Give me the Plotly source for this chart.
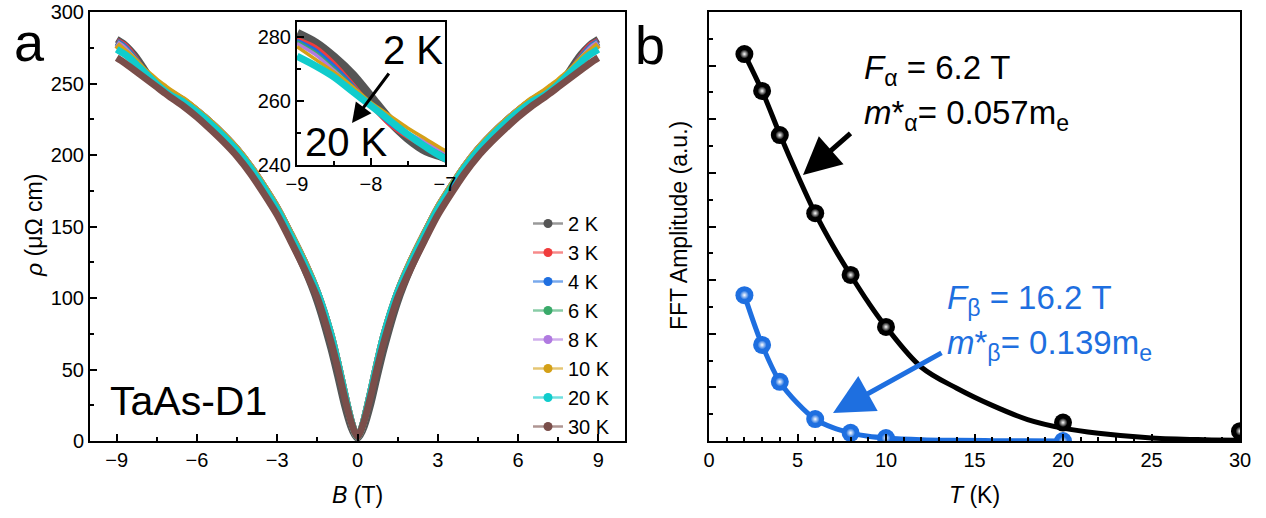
import plotly.graph_objects as go

W, H = 1266, 518
FONT = "Liberation Sans, Arial, sans-serif"

# ---------------- Panel a data (rho vs B), positive-field half, mirrored ----------------
B_pos = [0, 0.1, 0.25, 0.5, 0.75, 1, 1.5, 2, 2.5, 3, 3.5, 4, 4.5, 5, 5.5, 6, 6.5,
         7, 7.25, 7.5, 7.75, 8, 8.25, 8.5, 8.75, 9]
rho_2K = [2, 4, 10, 26, 46, 65, 97, 121, 141, 161, 177, 191, 203, 213, 222, 230.5, 237,
          242.5, 244.5, 248.5, 254, 261, 268, 273.5, 278, 281]
rho_3K = [3, 6, 15, 35, 56, 75, 104, 126, 145, 163, 178, 192, 204, 214, 223, 231, 238,
          243, 245.5, 248.5, 252.5, 258.5, 265.5, 272, 277, 279.5]
rho_4K = [3, 6, 15, 35, 56, 75, 104, 126, 145, 163, 178, 192, 204, 214, 223, 231, 238,
          243.5, 246, 249, 253, 258.5, 265, 271, 276, 279]
rho_6K = [3, 6, 15, 35, 56, 75, 104, 126, 145, 163, 178, 192, 204, 214, 223, 231, 238,
          243.8, 246.5, 249.5, 253.5, 258.5, 264.5, 270, 275, 278.5]
rho_8K = [3, 6, 15, 35, 56, 75, 104, 126, 145, 163, 178, 192, 204, 214, 223, 231, 238,
          244, 247, 250, 254, 258.5, 264, 269.5, 274.5, 278]
rho_10K = [3, 6, 15, 35, 56, 75, 104, 126, 145, 163, 178, 192, 204, 214, 223, 231, 238.5,
           244.5, 248, 251.5, 255.5, 259.5, 264.5, 269, 273, 277]
rho_20K = [3, 6, 15, 35, 56, 75, 104, 125, 144, 162, 177, 191, 203, 213, 222, 230, 237,
           242, 245.5, 249.5, 254, 258.5, 263, 267.5, 271, 274]
rho_30K = [3, 6, 14, 32, 52, 70, 100, 121, 140, 158, 173, 187, 199, 209, 218, 226.5, 234,
           240.5, 244, 247.5, 251, 254.5, 258, 261.5, 265, 268]

temps_a = ["2 K", "3 K", "4 K", "6 K", "8 K", "10 K", "20 K", "30 K"]
rho_all = [rho_2K, rho_3K, rho_4K, rho_6K, rho_8K, rho_10K, rho_20K, rho_30K]
colors_a = ["#555555", "#F03C3C", "#1F6FE0", "#3AAA6A", "#B07AE0", "#D4A017", "#10CCCC", "#7A4E4A"]
legend_line = ["rgba(85,85,85,0.6)", "rgba(240,60,60,0.6)", "rgba(31,111,224,0.6)",
               "rgba(58,170,106,0.6)", "rgba(176,122,224,0.6)", "rgba(212,160,23,0.6)",
               "rgba(16,204,204,0.6)", "rgba(122,78,74,0.6)"]

B_full = [-b for b in reversed(B_pos[1:])] + B_pos


def mirror(v):
    return list(reversed(v[1:])) + v


# ---------------- Panel b data (FFT amplitude vs T) ----------------
T_alpha = [2, 3, 4, 6, 8, 10, 20, 30]
A_alpha = [0.902, 0.816, 0.713, 0.531, 0.387, 0.266, 0.043, 0.023]
T_beta = [2, 3, 4, 6, 8, 10, 20]
A_beta = [0.340, 0.224, 0.138, 0.051, 0.019, 0.007, 0.0]

T_fit_alpha = [2, 3, 4, 5, 6, 7, 8, 9, 10, 12, 14, 16, 18, 20, 22, 25, 28, 30]
A_fit_alpha = [0.902, 0.816, 0.715, 0.620, 0.531, 0.455, 0.387, 0.323, 0.266, 0.172,
               0.123, 0.083, 0.050, 0.030, 0.018, 0.007, 0.003, 0.002]
T_fit_beta = [2, 3, 4, 5, 6, 7, 8, 9, 10, 12, 14, 16, 18, 20]
A_fit_beta = [0.340, 0.224, 0.138, 0.088, 0.051, 0.031, 0.019, 0.011, 0.007, 0.003,
              0.0015, 0.0008, 0.0004, 0.0002]

BLACK = "#000000"
BLUE = "#1E6FE0"


def px_x(p):
    return p / W


def px_y(p):
    return 1 - p / H


fig = go.Figure()

# Main panel a curves
for name, rho, c in zip(temps_a, rho_all, colors_a):
    fig.add_trace(go.Scatter(x=B_full, y=mirror(rho), mode="lines",
                             line=dict(color=c, width=7, shape="spline", smoothing=0.8),
                             showlegend=False, xaxis="x", yaxis="y", hoverinfo="skip"))

# Inset curves (2 K .. 20 K)
inset_widths = [10, 3.5, 3.5, 3.5, 3.5, 3.5, 7]
for i in range(7):
    fig.add_trace(go.Scatter(x=B_full, y=mirror(rho_all[i]), mode="lines",
                             line=dict(color=colors_a[i], width=inset_widths[i], shape="spline", smoothing=0.8),
                             showlegend=False, xaxis="x3", yaxis="y3", hoverinfo="skip"))

# Legend-only entries
for name, c, lc in zip(temps_a, colors_a, legend_line):
    fig.add_trace(go.Scatter(x=[None], y=[None], mode="lines+markers", name=name,
                             line=dict(color=lc, width=2.5),
                             marker=dict(color=c, size=9), xaxis="x", yaxis="y"))

# Panel b: fits
fig.add_trace(go.Scatter(x=T_fit_alpha, y=A_fit_alpha, mode="lines",
                         line=dict(color=BLACK, width=5, shape="spline"),
                         showlegend=False, xaxis="x2", yaxis="y2"))
fig.add_trace(go.Scatter(x=T_fit_beta, y=A_fit_beta, mode="lines",
                         line=dict(color=BLUE, width=5, shape="spline"),
                         showlegend=False, xaxis="x2", yaxis="y2"))
# Panel b: sphere markers
for T, A, c in [(T_alpha, A_alpha, BLACK), (T_beta, A_beta, BLUE)]:
    fig.add_trace(go.Scatter(x=T, y=A, mode="markers",
                             marker=dict(color=c, size=18, line=dict(width=0)),
                             showlegend=False, xaxis="x2", yaxis="y2"))
    fig.add_trace(go.Scatter(x=T, y=A, mode="markers",
                             marker=dict(color=c, size=9, line=dict(width=0),
                                         gradient=dict(type="radial", color="white")),
                             showlegend=False, xaxis="x2", yaxis="y2"))

tickfont = dict(family=FONT, size=20, color="black")
axis_common = dict(showline=True, linewidth=2, linecolor="black", mirror=True, ticks="inside",
                   tickwidth=1.5, ticklen=7, tickcolor="black", showgrid=False, zeroline=False,
                   tickfont=tickfont, automargin=False)
minor_common = dict(ticks="inside", ticklen=4, tickwidth=1.5, tickcolor="black")

fig.update_layout(
    width=W, height=H, margin=dict(l=0, r=0, t=0, b=0, pad=0, autoexpand=False),
    paper_bgcolor="white", plot_bgcolor="white",
    font=dict(family=FONT, color="black"),
    xaxis=dict(domain=[px_x(90), px_x(625)], range=[-10, 10], tickvals=[-9, -6, -3, 0, 3, 6, 9],
               minor=dict(tickvals=[-7.5, -4.5, -1.5, 1.5, 4.5, 7.5], **minor_common),
               anchor="y", **axis_common),
    yaxis=dict(domain=[px_y(441), px_y(12)], range=[0, 300], dtick=50,
               minor=dict(dtick=25, **minor_common),
               anchor="x", **axis_common),
    xaxis2=dict(domain=[px_x(709), px_x(1240)], range=[0, 30], dtick=5,
                minor=dict(dtick=1, **minor_common),
                anchor="y2", **axis_common),
    yaxis2=dict(domain=[px_y(441), px_y(12)], range=[0, 1.0], dtick=0.125, showticklabels=False,
                minor=dict(dtick=0.0625, **minor_common),
                anchor="x2", **axis_common),
    xaxis3=dict(domain=[px_x(297), px_x(445)], range=[-9, -7], tickvals=[-9, -8, -7],
                minor=dict(tickvals=[-8.5, -7.5], **minor_common),
                anchor="y3", **axis_common),
    yaxis3=dict(domain=[px_y(165), px_y(22)], range=[240, 284.7], tickvals=[240, 260, 280],
                minor=dict(tickvals=[250, 270], **minor_common),
                anchor="x3", **axis_common),
    legend=dict(x=px_x(528), y=px_y(204), xanchor="left", yanchor="top", bgcolor="rgba(0,0,0,0)",
                font=dict(family=FONT, size=20, color="black"), tracegroupgap=0),
)

ann = []


def text(x, y, s, size, color="black", xanchor="center", yanchor="middle", angle=0):
    ann.append(dict(x=px_x(x), y=px_y(y), xref="paper", yref="paper", text=s, showarrow=False,
                    textangle=angle,
                    font=dict(family=FONT, size=size, color=color), xanchor=xanchor, yanchor=yanchor))


def arrow(tipx, tipy, tailx, taily, color, width, size):
    ann.append(dict(x=px_x(tipx), y=px_y(tipy), xref="paper", yref="paper", text="",
                    showarrow=True, ax=tailx - tipx, ay=taily - tipy, arrowhead=2,
                    arrowwidth=width, arrowsize=size, arrowcolor=color))


text(30, 42, "a", 54)
text(650, 45, "b", 54)
text(108, 401, "TaAs-D1", 41, xanchor="left")
text(413, 50, "2 K", 40)
text(346, 142, "20 K", 40)
arrow(352, 123, 390, 72, "black", 3, 1.3)

# axis titles
text(357, 495, "<i>B</i> (T)", 23)
text(974, 495, "<i>T</i> (K)", 23)
text(34, 226, "<i>ρ</i> (μΩ cm)", 23, angle=-90)
text(679, 226, "FFT Amplitude (a.u.)", 23, angle=-90)

# panel b labels
text(862, 70, "<i>F</i><sub>α</sub> = 6.2 T", 33, xanchor="left")
text(862, 115, "<i>m</i>*<sub>α</sub>= 0.057m<sub>e</sub>", 33, xanchor="left")
text(945, 300, "<i>F</i><sub>β</sub> = 16.2 T", 33, color=BLUE, xanchor="left")
text(945, 345, "<i>m</i>*<sub>β</sub>= 0.139m<sub>e</sub>", 33, color=BLUE, xanchor="left")
arrow(803, 175, 852, 132, "black", 5, 1.5)
arrow(833, 413, 943, 352, BLUE, 5, 1.6)

fig.update_layout(annotations=ann)
fig.write_html("out.html", config={"displayModeBar": False},
               post_script="document.body.style.margin='0px';document.body.style.overflow='hidden';")
